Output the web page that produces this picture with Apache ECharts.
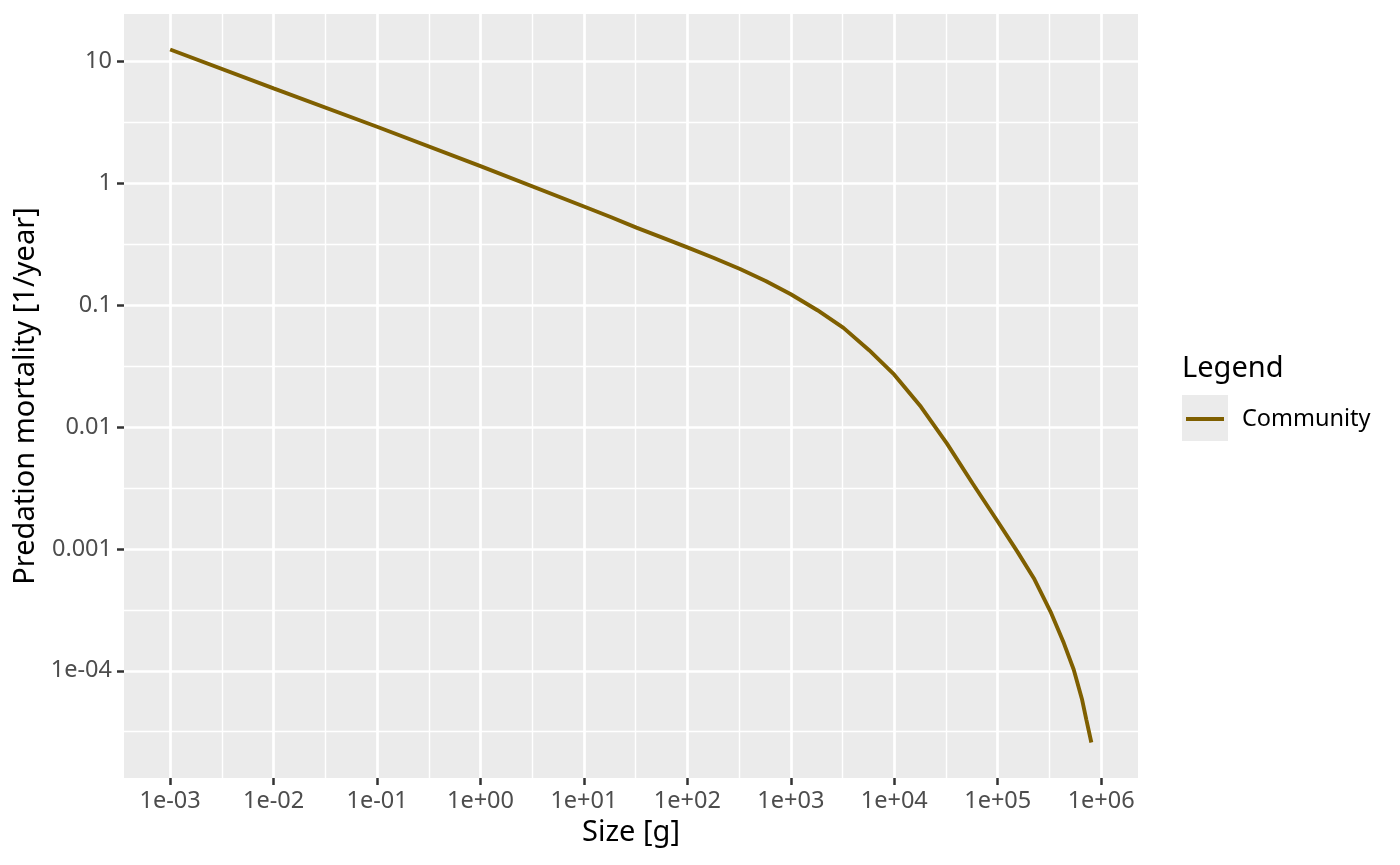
<!DOCTYPE html>
<html>
<head>
<meta charset="utf-8">
<script src="https://cdn.jsdelivr.net/npm/echarts@6/dist/echarts.min.js"></script>
<style>
  html, body { margin: 0; padding: 0; background: #fff; }
  #main { width: 1400px; height: 865px; }
</style>
</head>
<body>
<div id="main"></div>
<script>
// sizes [g] and community predation mortality [1/year]
var sizes = [1e-3, 1e-2, 1e-1, 1, 10, 18.11, 32.14, 57.28, 101.4, 180.7, 322.8, 571.5,
             1000, 1807, 3228, 5715, 7261, 10000, 18110, 32210, 57020, 100000,
             154200, 223400, 323600, 435500, 543300, 654600, 719500, 803500];
var mortality = [12.56, 6.012, 2.917, 1.387, 0.6457, 0.5297, 0.4335, 0.3589, 0.2972, 0.2443, 0.1982, 0.1581,
                 0.1230, 0.0910, 0.0652, 0.04276, 0.03508, 0.02692, 0.01466, 0.007345, 0.003459, 0.001679,
                 9.55e-4, 5.75e-4, 3.06e-4, 1.687e-4, 1.019e-4, 5.78e-5, 3.96e-5, 2.58e-5];

var xTicks = [1e-3, 1e-2, 1e-1, 1, 10, 100, 1e3, 1e4, 1e5, 1e6];
var xTickLabels = ['1e-03', '1e-02', '1e-01', '1e+00', '1e+01', '1e+02', '1e+03', '1e+04', '1e+05', '1e+06'];
var yTicks = [1e-4, 1e-3, 1e-2, 0.1, 1, 10];
var yTickLabels = ['1e-04', '0.001', '0.01', '0.1', '1', '10'];

// half-decade minor breaks
var xMinor = [-2.5, -1.5, -0.5, 0.5, 1.5, 2.5, 3.5, 4.5, 5.5].map(function (e) { return Math.pow(10, e); });
var yMinor = [-4.5, -3.5, -2.5, -1.5, -0.5, 0.5].map(function (e) { return Math.pow(10, e); });

var xMin = Math.pow(10, -3.446), xMax = Math.pow(10, 6.356);
var yMin = Math.pow(10, -4.88), yMax = Math.pow(10, 1.39);

function lookup(ticks, labels) {
    return function (v) {
        var e = Math.round(Math.log10(v));
        for (var i = 0; i < ticks.length; i++) {
            if (Math.round(Math.log10(ticks[i])) === e) return labels[i];
        }
        return '';
    };
}

var lineData = sizes.map(function (s, i) { return [s, mortality[i]]; });

var myChart = echarts.init(document.getElementById('main'));
var font = 'Noto Sans';
var lineColor = '#7F5F00';

var option = {
    animation: false,
    backgroundColor: '#ffffff',
    textStyle: { fontFamily: font },
    title: {
        text: 'Legend',
        left: 1182,
        top: 354,
        padding: 0,
        textStyle: { fontFamily: font, fontSize: 29, fontWeight: 'normal', color: '#000000' }
    },
    legend: {
        data: [{ name: 'Community', icon: 'rect' }],
        left: 1186,
        top: 407,
        padding: 0,
        itemWidth: 38,
        itemHeight: 3.8,
        textStyle: { fontFamily: font, fontSize: 23.5, color: '#000000', padding: [0, 0, 0, 13] }
    },
    graphic: [{
        type: 'rect',
        left: 1182,
        top: 395,
        z: -1,
        shape: { width: 46, height: 46 },
        style: { fill: '#EBEBEB' }
    }],
    grid: {
        left: 124, right: 262, top: 14, bottom: 87,
        show: true, backgroundColor: '#EBEBEB', borderWidth: 0
    },
    xAxis: [{
        type: 'log',
        logBase: 10,
        min: xMin, max: xMax,
        name: 'Size [g]',
        nameLocation: 'middle',
        nameGap: 39,
        nameTextStyle: { fontFamily: font, fontSize: 29, color: '#000000' },
        axisLine: { show: false },
        axisTick: { show: true, customValues: xTicks, length: 7, lineStyle: { color: '#333333', width: 2.5 } },
        axisLabel: { customValues: xTicks, margin: 11, fontFamily: font, fontSize: 23.5, color: '#4D4D4D',
                     formatter: lookup(xTicks, xTickLabels) },
        splitLine: { show: true, lineStyle: { color: '#ffffff', width: 2.7 } },
        minorTick: { show: false },
        minorSplitLine: { show: false }
    }, {
        type: 'log',
        logBase: 10,
        min: xMin, max: xMax,
        position: 'bottom',
        axisLine: { show: false },
        axisTick: { show: false, customValues: xMinor },
        axisLabel: { show: false, customValues: xMinor },
        splitLine: { show: true, lineStyle: { color: '#ffffff', width: 1.4 } }
    }],
    yAxis: [{
        type: 'log',
        logBase: 10,
        min: yMin, max: yMax,
        name: 'Predation mortality [1/year]',
        nameLocation: 'middle',
        nameGap: 79,
        nameRotate: 90,
        nameTextStyle: { fontFamily: font, fontSize: 29, color: '#000000' },
        axisLine: { show: false },
        axisTick: { show: true, customValues: yTicks, length: 7, lineStyle: { color: '#333333', width: 2.5 } },
        axisLabel: { customValues: yTicks, margin: 12, fontFamily: font, fontSize: 23.5, color: '#4D4D4D',
                     formatter: lookup(yTicks, yTickLabels) },
        splitLine: { show: true, lineStyle: { color: '#ffffff', width: 2.7 } }
    }, {
        type: 'log',
        logBase: 10,
        min: yMin, max: yMax,
        position: 'left',
        axisLine: { show: false },
        axisTick: { show: false, customValues: yMinor },
        axisLabel: { show: false, customValues: yMinor },
        splitLine: { show: true, lineStyle: { color: '#ffffff', width: 1.4 } }
    }],
    series: [{
        name: 'Community',
        type: 'line',
        xAxisIndex: 0,
        yAxisIndex: 0,
        data: lineData,
        symbol: 'none',
        smooth: false,
        lineStyle: { color: lineColor, width: 3.9 },
        itemStyle: { color: lineColor }
    }]
};

myChart.setOption(option);
</script>
</body>
</html>
